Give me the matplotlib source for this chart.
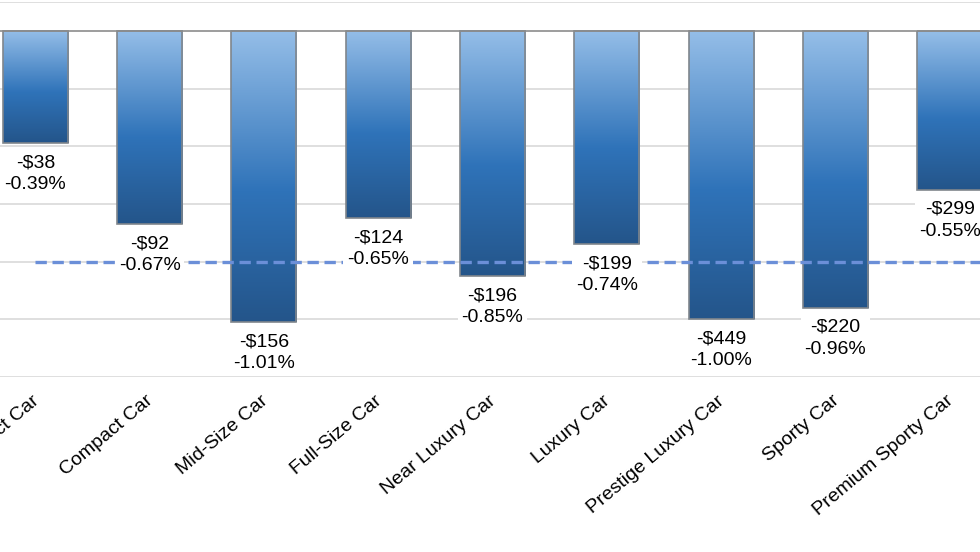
import numpy as np
import matplotlib
matplotlib.use("Agg")
import matplotlib.pyplot as plt
import matplotlib.transforms as mtransforms
from matplotlib.colors import LinearSegmentedColormap

plt.rcParams['font.family'] = ['Liberation Sans', 'DejaVu Sans']

# Dados
categorias = ['Subcompact Car', 'Compact Car', 'Mid-Size Car', 'Full-Size Car',
              'Near Luxury Car', 'Luxury Car', 'Prestige Luxury Car', 'Sporty Car',
              'Premium Sporty Car']
variacao_dolar = [-38, -92, -156, -124, -196, -199, -449, -220, -299]
variacao_pct = [-0.39, -0.67, -1.01, -0.65, -0.85, -0.74, -1.00, -0.96, -0.55]
media_pct = -0.80

fig = plt.figure(figsize=(9.8, 5.52), dpi=100)
ax = fig.add_axes([0, 0.317, 1, 0.6793])

x = np.arange(len(categorias))
largura = 0.57

# Gradiente vertical das barras
cmap = LinearSegmentedColormap.from_list(
    'barra', [(0.0, '#24558a'), (0.45, '#2f73b9'), (1.0, '#95bee8')])
grad = np.linspace(0, 1, 256).reshape(-1, 1)

for xi, v in zip(x, variacao_pct):
    ax.imshow(grad, cmap=cmap, origin='lower', aspect='auto',
              extent=[xi - largura / 2, xi + largura / 2, v, 0], zorder=2)

ax.bar(x, variacao_pct, width=largura, fill=False, edgecolor='#80868c',
       linewidth=1.2, zorder=3)

# Linha da média
ax.plot([x[0], x[-1] + 1], [media_pct, media_pct], color='#6b8fd8',
        linewidth=2.4, dashes=(3.4, 1.7), zorder=4)

# Rótulos
for xi, d, p in zip(x, variacao_dolar, variacao_pct):
    ax.annotate(f"-${abs(d)}\n{p:.2f}%", xy=(xi, p), xytext=(0, -8),
                textcoords='offset points', ha='center', va='top',
                fontsize=14, linespacing=1.38, zorder=5,
                bbox=dict(boxstyle='square,pad=0.2', fc='white', ec='none'))

# Grade
for y in [-0.2, -0.4, -0.6, -0.8, -1.0, -1.2]:
    ax.axhline(y, color='#d9d9d9', linewidth=1.2, zorder=1)
ax.axhline(0.1, color='#d9d9d9', linewidth=1.2, zorder=1)
ax.axhline(0, color='#8c8c8c', linewidth=1.2, zorder=3)

ax.set_xlim(-0.309, 8.265)
ax.set_ylim(-1.2, 0.1)
ax.set_xticks(x)
ax.set_xticklabels(categorias, rotation=40, ha='right', rotation_mode='anchor',
                   fontsize=14)
ax.tick_params(axis='x', length=0, pad=11)
desloc = mtransforms.ScaledTranslation(-0.04, 0, fig.dpi_scale_trans)
for rot in ax.get_xticklabels():
    rot.set_transform(rot.get_transform() + desloc)
ax.set_yticks([])
for s in ax.spines.values():
    s.set_visible(False)

fig.savefig('out.png', dpi=100)
